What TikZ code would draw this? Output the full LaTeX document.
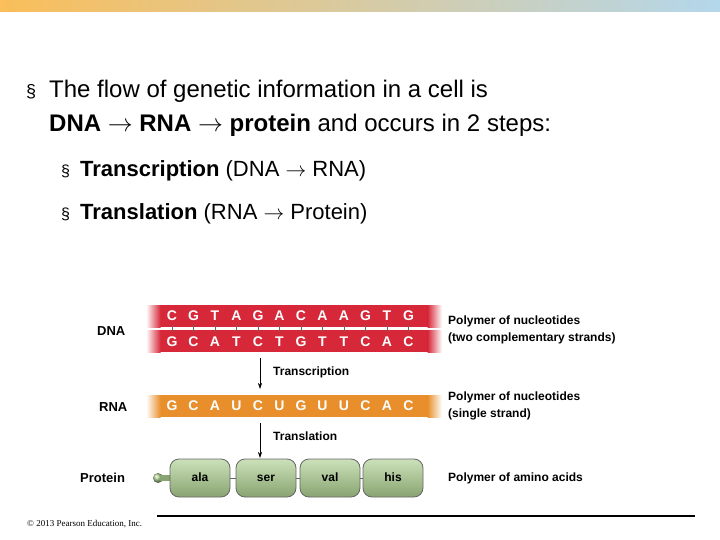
\documentclass[tikz,border=0pt]{standalone}
\usepackage{fontspec}
\setmainfont{Liberation Sans}
\newfontfamily\timesf{Liberation Serif}
\usetikzlibrary{arrows.meta}
\definecolor{dnared}{RGB}{214,40,57}
\definecolor{rnaor}{RGB}{232,143,44}
\definecolor{beadg}{RGB}{170,205,140}
\definecolor{barL}{RGB}{250,190,90}
\definecolor{barR}{RGB}{180,215,235}
\tikzset{
 base/.style={font=\fontsize{12}{14}\selectfont\bfseries, anchor=west, inner sep=0},
 lett/.style={font=\fontsize{14}{14}\selectfont\bfseries, text=white, inner sep=0},
 bead/.style={rectangle, rounded corners=9pt, minimum width=60pt, minimum height=38pt, draw=black!60, thick, top color=beadg!60, bottom color=beadg!80!black, font=\fontsize{12}{14}\selectfont\bfseries, inner sep=0, text height=8pt, text depth=2pt},
 arr/.style={-{Stealth[length=6pt,width=4pt]}, semithick}
}
\begin{document}
\begin{tikzpicture}[x=1pt,y=-1pt]
\useasboundingbox (0,0) rectangle (720,540);
\shade[left color=barL, right color=barR] (0,0) rectangle (720,12);
% text
\node[anchor=base west, inner sep=0, font=\fontsize{18}{20}\selectfont] (b1) at (26,98) {\S};
\node[anchor=base west, inner sep=0, font=\fontsize{24}{30}\selectfont, align=left] (t1) at (49,98) {The flow of genetic information in a cell is};
\node[anchor=base west, inner sep=0, font=\fontsize{24}{30}\selectfont] (t2) at (49,132) {\textbf{DNA} $\rightarrow$ \textbf{RNA} $\rightarrow$ \textbf{protein} and occurs in 2 steps:};
\node[anchor=base west, inner sep=0, font=\fontsize{16}{20}\selectfont] (b2) at (61,177) {\S};
\node[anchor=base west, inner sep=0, font=\fontsize{22}{26}\selectfont] (t3) at (80,177) {\textbf{Transcription} (DNA $\rightarrow$ RNA)};
\node[anchor=base west, inner sep=0, font=\fontsize{16}{20}\selectfont] (b3) at (61,220) {\S};
\node[anchor=base west, inner sep=0, font=\fontsize{22}{26}\selectfont] (t4) at (80,220) {\textbf{Translation} (RNA $\rightarrow$ Protein)};
% strips
\foreach \ya/\yb/\c in {305/327/dnared,330/352/dnared,395/417/rnaor}{
 \fill[\c] (160,\ya) rectangle (428,\yb);
 \shade[left color=white, right color=\c] (146,\ya) rectangle (160.5,\yb);
 \shade[left color=\c, right color=white] (427.5,\ya) rectangle (442,\yb);
}
\foreach \i in {0,...,11} \draw[black!60] (172+\i*21.5,325) -- (172+\i*21.5,332);
\foreach \l [count=\i from 0] in {C,G,T,A,G,A,C,A,A,G,T,G} \node[lett] (d1\i) at (172+\i*21.5,316) {\l};
\foreach \l [count=\i from 0] in {G,C,A,T,C,T,G,T,T,C,A,C} \node[lett] (d2\i) at (172+\i*21.5,342) {\l};
\foreach \l [count=\i from 0] in {G,C,A,U,C,U,G,U,U,C,A,C} \node[lett] (r\i) at (172+\i*21.5,406) {\l};
% arrows
\coordinate (a1) at (260,358); \coordinate (a2) at (260,389);
\coordinate (a3) at (260,423); \coordinate (a4) at (260,458);
\draw[arr] (a1) -- (a2);
\draw[arr] (a3) -- (a4);
\node[base] (tc) at (273,372) {Transcription};
\node[base] (tl) at (273,436) {Translation};
% protein
\shade[ball color=beadg] (158,478) circle (5);
\fill[beadg!80!black] (160,475) rectangle (172,481);
\node[bead] (p1) at (200,478) {ala};
\node[bead] (p2) at (266,478) {ser};
\node[bead] (p3) at (330,478) {val};
\node[bead] (p4) at (393,478) {his};
\foreach \a/\b in {p1/p2,p2/p3,p3/p4} \draw[black!60,thick] (\a.east) -- (\b.west);
% left labels
\node[base, font=\fontsize{13}{15}\selectfont\bfseries] (ldna) at (97,331) {DNA};
\node[base, font=\fontsize{13}{15}\selectfont\bfseries] (lrna) at (99,407) {RNA};
\node[base, font=\fontsize{13}{15}\selectfont\bfseries] (lpro) at (80,478) {Protein};
% right labels
\node[base] (r1) at (448,321) {Polymer of nucleotides};
\node[base] (r2) at (448,338) {(two complementary strands)};
\node[base] (r3) at (448,397) {Polymer of nucleotides};
\node[base] (r4) at (448,414) {(single strand)};
\node[base] (r5) at (448,478) {Polymer of amino acids};
% footer
\draw[line width=2pt] (157,516) -- (695,516);
\node[anchor=west, inner sep=0, font=\timesf\fontsize{9}{11}\selectfont] (cp) at (27,524) {\textcopyright{} 2013 Pearson Education, Inc.};
\end{tikzpicture}
\end{document}
